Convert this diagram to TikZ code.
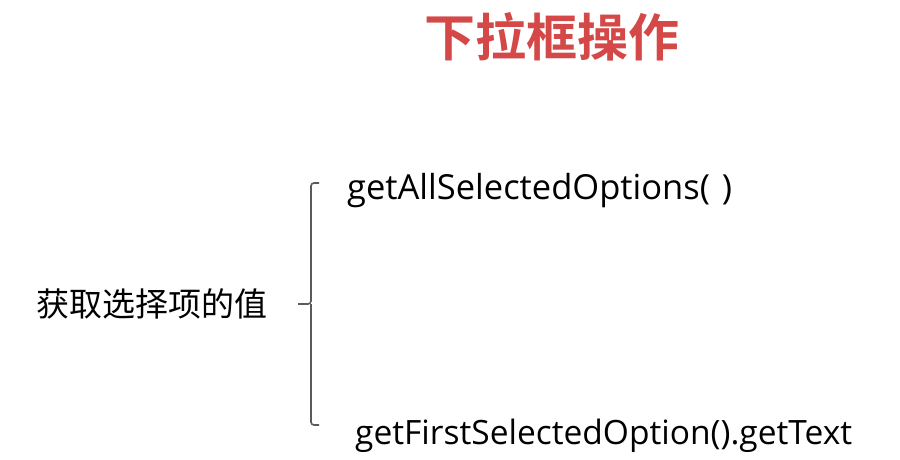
\documentclass[tikz,border=0pt]{standalone}
\usepackage{fontspec}
\setmainfont{Open Sans}
\newfontfamily\cjk{Noto Sans CJK SC}
\newfontfamily\cjkbold{Noto Sans CJK SC Bold}
\definecolor{titlered}{RGB}{212,72,72}
\definecolor{bracegray}{RGB}{90,90,90}
\begin{document}
\begin{tikzpicture}[x=1pt,y=-1pt,
  lbl/.style={inner sep=0pt,anchor=base west,font=\fontsize{33.5}{36}\selectfont},
  brace/.style={draw=bracegray,line width=1.6pt,rounded corners=3pt}]
\useasboundingbox[fill=white] (0,0) rectangle (900,460);
\node[inner sep=0pt,text=titlered,font=\cjkbold\fontsize{51}{54}\selectfont] (title) at (552,37) {下拉框操作};
\node[inner sep=0pt,anchor=west,font=\cjk\fontsize{33}{36}\selectfont] (lhs) at (36,304) {获取选择项的值};
\node[lbl,font=\fontsize{34.5}{37}\selectfont] (opt1) at (347,199) {getAllSelectedOptions(\hspace{3pt} )};
\node[lbl] (opt2) at (355,444) {getFirstSelectedOption().getText};
\coordinate (btop) at (319,183);
\coordinate (bbot) at (319,425);
\coordinate (bmid) at (298,304);
\draw[brace] (btop) -- (311,183) -- (311,304) -- (bmid);
\draw[brace] (bbot) -- (311,425) -- (311,304);
\end{tikzpicture}
\end{document}
